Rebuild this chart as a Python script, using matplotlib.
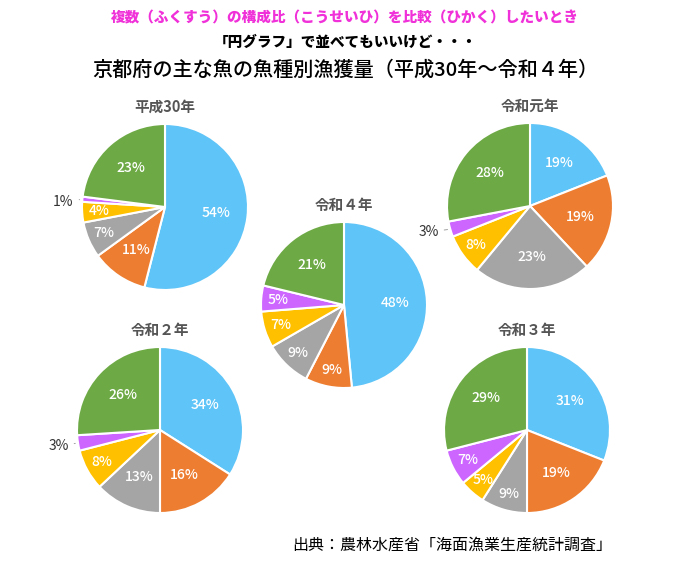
import numpy as np
import matplotlib
matplotlib.use('Agg')
import matplotlib.pyplot as plt

plt.rcParams['font.family'] = ['Noto Sans CJK JP', 'DejaVu Sans']

# years and shares (clockwise from top: blue, orange, gray, yellow, purple, green)
years = ['平成30年', '令和元年', '令和４年', '令和２年', '令和３年']
h30 = [54, 11, 7, 4, 1, 23]
r1 = [19, 19, 23, 8, 3, 28]
r4 = [48, 9, 9, 7, 5, 21]
r2 = [34, 16, 13, 8, 3, 26]
r3 = [31, 19, 9, 5, 7, 29]
data = [h30, r1, r4, r2, r3]

colors = ['#5FC4F7', '#ED7D31', '#A5A5A5', '#FFC000', '#CC66FF', '#6DAA45']

# pie centres in pixels (x, y from top)
centers = [(165, 207), (530, 206), (344, 305), (160, 430), (527, 430)]
R = 83

W, H = 690, 568
fig = plt.figure(figsize=(W / 100, H / 100), dpi=100)
ax = fig.add_axes([0, 0, 1, 1])

for name, vals, (cx, py) in zip(years, data, centers):
    cy = H - py
    wedges, _ = ax.pie(vals, colors=colors, startangle=90, counterclock=False,
                       center=(cx, cy), radius=R,
                       wedgeprops=dict(edgecolor='white', linewidth=1.5))
    for w, v in zip(wedges, vals):
        ang = np.deg2rad((w.theta1 + w.theta2) / 2)
        if v <= 3:
            ex, ey = cx + R * np.cos(ang), cy + R * np.sin(ang)
            ax.annotate(f'{v}%', xy=(ex, ey), xytext=(cx - R * 1.1, ey - 3),
                        ha='right', va='center', fontsize=10, color='#333333',
                        arrowprops=dict(arrowstyle='-', color='#A0A0A0', lw=0.7))
        else:
            d = R * (0.62 if v >= 10 else 0.8)
            ax.text(cx + d * np.cos(ang), cy + d * np.sin(ang), f'{v}%',
                    ha='center', va='center', fontsize=10, color='white',
                    fontweight='medium')
    ax.text(cx, cy + R + 17, name, ha='center', va='center', fontsize=10.5,
            color='#555555', fontweight='bold')

ax.text(W / 2, H - 18, '複数（ふくすう）の構成比（こうせいひ）を比較（ひかく）したいとき',
        ha='center', va='center', fontsize=10.5, color='#F030D8', fontweight='heavy')
ax.text(W / 2, H - 42, '「円グラフ」で並べてもいいけど・・・',
        ha='center', va='center', fontsize=10.5, color='black', fontweight='heavy')
ax.text(W / 2, H - 70, '京都府の主な魚の魚種別漁獲量（平成30年～令和４年）',
        ha='center', va='center', fontsize=14.5, color='black', fontweight='medium')
ax.text(452, H - 545, '出典：農林水産省「海面漁業生産統計調査」',
        ha='center', va='center', fontsize=11.5, color='black')

ax.set_xlim(0, W)
ax.set_ylim(0, H)
ax.set_aspect('equal')
ax.axis('off')

fig.savefig('out.png', dpi=100, facecolor='white')
